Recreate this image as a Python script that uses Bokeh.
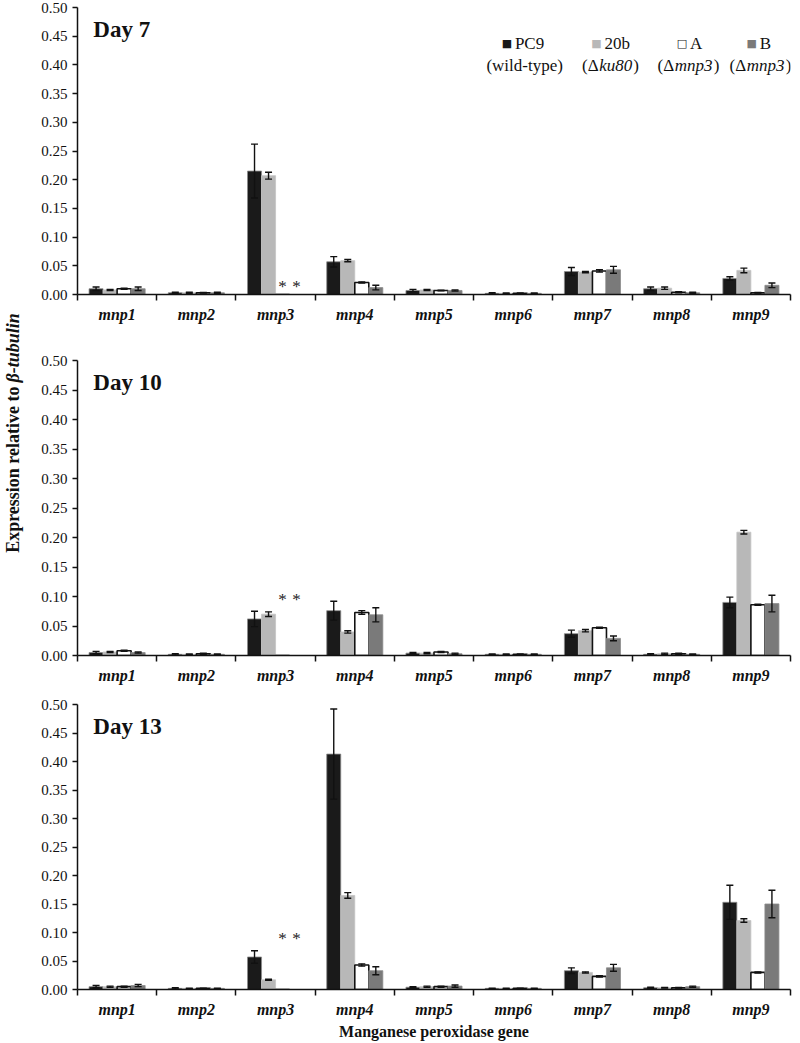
import numpy as np
from bokeh.plotting import figure
from bokeh.layouts import column, row
from bokeh.models import (ColumnDataSource, Whisker, TeeHead, FixedTicker,
                          NumeralTickFormatter, Label, Range1d)
from bokeh.core.properties import value
from bokeh.embed import file_html
from bokeh.resources import INLINE

# ---------------- data ----------------
genes = ["mnp1", "mnp2", "mnp3", "mnp4", "mnp5", "mnp6", "mnp7", "mnp8", "mnp9"]
strains = ["PC9", "20b", "A", "B"]
days = ["Day 7", "Day 10", "Day 13"]
y_ticks = [0.00, 0.05, 0.10, 0.15, 0.20, 0.25, 0.30, 0.35, 0.40, 0.45, 0.50]

# Day 7
d7_pc9 = [0.010, 0.003, 0.215, 0.057, 0.007, 0.002, 0.040, 0.010, 0.028]
d7_20b = [0.008, 0.003, 0.207, 0.059, 0.008, 0.002, 0.039, 0.011, 0.042]
d7_a   = [0.010, 0.003, 0.000, 0.021, 0.007, 0.002, 0.041, 0.004, 0.003]
d7_b   = [0.010, 0.003, 0.000, 0.012, 0.007, 0.002, 0.043, 0.003, 0.016]
d7_pc9_err = [0.003, 0.001, 0.047, 0.009, 0.002, 0.001, 0.007, 0.003, 0.003]
d7_20b_err = [0.001, 0.001, 0.006, 0.002, 0.001, 0.0005, 0.001, 0.002, 0.004]
d7_a_err   = [0.001, 0.0005, 0.0, 0.001, 0.0005, 0.0005, 0.002, 0.001, 0.0005]
d7_b_err   = [0.003, 0.001, 0.0, 0.004, 0.001, 0.0005, 0.006, 0.001, 0.004]

# Day 10
d10_pc9 = [0.005, 0.002, 0.062, 0.076, 0.004, 0.002, 0.037, 0.002, 0.090]
d10_20b = [0.006, 0.002, 0.070, 0.040, 0.004, 0.002, 0.042, 0.003, 0.209]
d10_a   = [0.008, 0.003, 0.000, 0.073, 0.006, 0.002, 0.047, 0.003, 0.086]
d10_b   = [0.005, 0.002, 0.000, 0.069, 0.003, 0.002, 0.029, 0.002, 0.088]
d10_pc9_err = [0.002, 0.001, 0.013, 0.016, 0.001, 0.0005, 0.006, 0.001, 0.009]
d10_20b_err = [0.001, 0.0005, 0.004, 0.002, 0.001, 0.0005, 0.002, 0.001, 0.003]
d10_a_err   = [0.001, 0.001, 0.0, 0.003, 0.001, 0.0005, 0.001, 0.001, 0.001]
d10_b_err   = [0.001, 0.0005, 0.0, 0.012, 0.001, 0.0005, 0.004, 0.0005, 0.014]

# Day 13
d13_pc9 = [0.005, 0.002, 0.057, 0.413, 0.004, 0.002, 0.033, 0.003, 0.153]
d13_20b = [0.005, 0.002, 0.017, 0.165, 0.005, 0.002, 0.030, 0.003, 0.121]
d13_a   = [0.005, 0.002, 0.000, 0.043, 0.005, 0.002, 0.023, 0.003, 0.030]
d13_b   = [0.007, 0.002, 0.000, 0.033, 0.006, 0.002, 0.038, 0.005, 0.150]
d13_pc9_err = [0.002, 0.001, 0.011, 0.079, 0.001, 0.0005, 0.005, 0.001, 0.030]
d13_20b_err = [0.001, 0.0005, 0.001, 0.005, 0.001, 0.0005, 0.001, 0.0005, 0.003]
d13_a_err   = [0.001, 0.0005, 0.0, 0.002, 0.001, 0.0005, 0.001, 0.0005, 0.001]
d13_b_err   = [0.002, 0.0005, 0.0, 0.007, 0.002, 0.0005, 0.006, 0.001, 0.024]

# not detected (marked with *)
not_detected = [("mnp3", "A"), ("mnp3", "B")]

legend_names = ["PC9", "20b", "A", "B"]
legend_marks = ["\u25A0", "\u25A0", "\u25A1", "\u25A0"]

# ---------------- style ----------------
FONT = "Liberation Serif"
FILL = ["#1a1a1a", "#b8b8b8", "#ffffff", "#7a7a7a"]
LINE = ["#8c8c8c", "#c4c4c4", "#111111", "#8c8c8c"]
LW = [0.8, 0.8, 1.6, 0.8]
BW = 0.177
FW = 713
LEFT_W = 24
STAR_Y = [0.014, 0.095, 0.09]


def make_panel(vals, errs, day, star_y, bt, fh, bb, xlabel=None):
    n = len(genes)
    p = figure(output_backend="svg", toolbar_location=None, tools="",
               frame_width=FW, frame_height=fh,
               x_range=Range1d(0, n), y_range=Range1d(0, 0.5),
               min_border_left=53, min_border_right=8,
               min_border_top=bt, min_border_bottom=bb)
    p.outline_line_color = None
    p.xgrid.visible = False
    p.ygrid.visible = False

    for k in range(len(strains)):
        v, e = vals[k], errs[k]
        xs = [i + 0.5 + (k - 1.5) * BW for i in range(n)]
        src = ColumnDataSource(dict(x=xs, top=v))
        p.vbar(x="x", top="top", bottom=0, width=BW, source=src,
               fill_color=FILL[k], line_color=LINE[k], line_width=LW[k])
        keep = [i for i in range(n) if e[i] > 0]
        wsrc = ColumnDataSource(dict(
            base=[xs[i] for i in keep],
            lower=[v[i] - e[i] for i in keep],
            upper=[v[i] + e[i] for i in keep]))
        w = Whisker(base="base", lower="lower", upper="upper", source=wsrc,
                    dimension="height", line_color="#111111", line_width=1.4,
                    level="annotation",
                    upper_head=TeeHead(size=7, line_width=1.4, line_color="#111111"),
                    lower_head=TeeHead(size=7, line_width=1.4, line_color="#111111"))
        p.add_layout(w)

    sx = [genes.index(g) + 0.5 + (strains.index(s) - 1.5) * BW for g, s in not_detected]
    p.text(x=sx, y=[star_y] * len(sx), text=["*"] * len(sx),
           text_align="center", text_baseline="middle",
           text_font=value(FONT), text_font_size="17px", text_color="#222222")

    p.add_layout(Label(x=0.2, y=0.462, text=day, text_font=FONT,
                       text_font_size="23px", text_font_style="bold",
                       text_baseline="middle", text_color="#111111"))

    ya = p.yaxis[0]
    ya.ticker = FixedTicker(ticks=y_ticks)
    ya.formatter = NumeralTickFormatter(format="0.00")
    ya.major_label_text_font = FONT
    ya.major_label_text_font_size = "15px"
    ya.major_label_text_color = "#111111"
    ya.major_tick_out = 5
    ya.major_tick_in = 0
    ya.minor_tick_line_color = None
    ya.axis_line_width = 1.5
    ya.axis_line_color = "#111111"
    ya.major_tick_line_width = 1.5
    ya.major_tick_line_color = "#111111"

    xa = p.xaxis[0]
    xa.ticker = FixedTicker(ticks=[i + 0.5 for i in range(n)],
                            minor_ticks=[float(i) for i in range(n + 1)])
    xa.major_label_overrides = {i + 0.5: g for i, g in enumerate(genes)}
    xa.major_label_text_font = FONT
    xa.major_label_text_font_size = "16px"
    xa.major_label_text_font_style = "bold italic"
    xa.major_label_text_color = "#111111"
    xa.major_label_standoff = 5
    xa.major_tick_out = 0
    xa.major_tick_in = 0
    xa.major_tick_line_color = None
    xa.minor_tick_out = 6
    xa.minor_tick_in = 0
    xa.minor_tick_line_width = 1.5
    xa.minor_tick_line_color = "#111111"
    xa.axis_line_width = 1.5
    xa.axis_line_color = "#111111"
    if xlabel:
        xa.axis_label = xlabel
        xa.axis_label_text_font = FONT
        xa.axis_label_text_font_size = "16px"
        xa.axis_label_text_font_style = "bold"
        xa.axis_label_text_color = "#111111"
        xa.axis_label_standoff = 2
    return p


p1 = make_panel([d7_pc9, d7_20b, d7_a, d7_b],
                [d7_pc9_err, d7_20b_err, d7_a_err, d7_b_err],
                days[0], STAR_Y[0], bt=7, fh=287, bb=30)
p2 = make_panel([d10_pc9, d10_20b, d10_a, d10_b],
                [d10_pc9_err, d10_20b_err, d10_a_err, d10_b_err],
                days[1], STAR_Y[1], bt=35, fh=295, bb=30)
p3 = make_panel([d13_pc9, d13_20b, d13_a, d13_b],
                [d13_pc9_err, d13_20b_err, d13_a_err, d13_b_err],
                days[2], STAR_Y[2], bt=18, fh=285, bb=54,
                xlabel="Manganese peroxidase gene")

# ---------- legend (panel 1) ----------
row1_y, row2_y = 0.437, 0.399
sq_x = [5.42, 6.55, 7.63, 8.51]
note_x = [5.644, 6.73, 7.715, 8.624]
mark_colors = [FILL[0], FILL[1], "#111111", FILL[3]]
for k in range(4):
    p1.add_layout(Label(x=sq_x[k], y=row1_y, text=legend_marks[k], text_font="DejaVu Sans",
                        text_font_size="11px", text_color=mark_colors[k],
                        text_align="center", text_baseline="middle"))
    p1.add_layout(Label(x=sq_x[k], y=row1_y, x_offset=8, text=legend_names[k], text_font=FONT,
                        text_font_size="17px", text_color="#111111",
                        text_align="left", text_baseline="middle"))

p1.add_layout(Label(x=note_x[0], y=row2_y, text="(wild-type)", text_font=FONT,
                    text_font_size="17px", text_color="#111111",
                    text_align="center", text_baseline="middle"))
italic_parts = [None, ("ku80", 33), ("mnp3", 38), ("mnp3", 38)]
for k in (1, 2, 3):
    word, w = italic_parts[k]
    p1.add_layout(Label(x=note_x[k], y=row2_y, x_offset=5, text=word, text_font=FONT,
                        text_font_size="17px", text_font_style="italic", text_color="#111111",
                        text_align="center", text_baseline="middle"))
    p1.add_layout(Label(x=note_x[k], y=row2_y, x_offset=5 - w / 2 - 0.5, text="(\u0394", text_font=FONT,
                        text_font_size="17px", text_color="#111111",
                        text_align="right", text_baseline="middle"))
    p1.add_layout(Label(x=note_x[k], y=row2_y, x_offset=5 + w / 2 + 1, text=")", text_font=FONT,
                        text_font_size="17px", text_color="#111111",
                        text_align="left", text_baseline="middle"))

# ---------- shared y-axis title (narrow strip on the left) ----------
TOTAL_H = 1038
ytitle = figure(output_backend="svg", toolbar_location=None, tools="",
                width=LEFT_W, height=TOTAL_H,
                x_range=Range1d(0, LEFT_W), y_range=Range1d(0, TOTAL_H),
                min_border=0)
ytitle.axis.visible = False
ytitle.grid.visible = False
ytitle.outline_line_color = None
junction_y = TOTAL_H - 384
ytitle.text(x=[12], y=[junction_y + 2], text=["\u03b2-tubulin"], angle=np.pi / 2,
            text_align="left", text_baseline="middle", text_font=value(FONT),
            text_font_size="18px", text_font_style="bold italic", text_color="#111111")
ytitle.text(x=[12], y=[junction_y - 2], text=["Expression relative to"], angle=np.pi / 2,
            text_align="right", text_baseline="middle", text_font=value(FONT),
            text_font_size="18px", text_font_style="bold", text_color="#111111")

layout = row(ytitle, column(p1, p2, p3))
open("out.html", "w").write(file_html(layout, INLINE))
